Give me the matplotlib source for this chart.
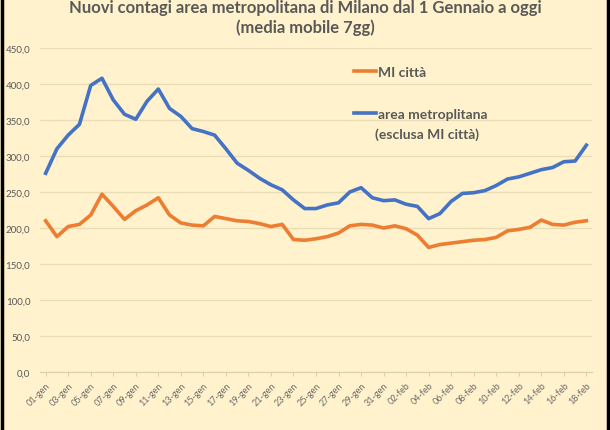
import matplotlib.pyplot as plt
from matplotlib.lines import Line2D

# giorni dal 01-gen al 18-feb
giorni = [f"{d:02d}-gen" for d in range(1, 32)] + [f"{d:02d}-feb" for d in range(1, 19)]

mi_citta = [210, 188, 202, 205, 218, 247, 230, 212, 224, 232,
            242, 218, 207, 204, 203, 216, 213, 210, 209, 206,
            202, 205, 184, 183, 185, 188, 193, 203, 205, 204,
            200, 203, 199, 190, 173, 177, 179, 181, 183, 184,
            187, 196, 198, 201, 211, 205, 204, 208, 210]

area_metro = [276, 310, 329, 344, 398, 408, 378, 358, 351, 376,
              393, 366, 355, 338, 334, 329, 310, 290, 280, 269,
              260, 253, 239, 227, 227, 232, 235, 250, 256, 242,
              238, 239, 233, 230, 213, 220, 237, 248, 249, 252,
              259, 268, 271, 276, 281, 284, 292, 293, 315]

y_ticks = [0, 50, 100, 150, 200, 250, 300, 350, 400, 450]

sfondo = '#FFF2CC'
grigio = '#595959'
blu = '#4472C4'
arancio = '#ED7D31'

plt.rcParams['font.family'] = ['Lato', 'DejaVu Sans']

fig = plt.figure(figsize=(6.1, 4.31), dpi=100, facecolor=sfondo)
ax = fig.add_axes([0.0656, 0.1346, 0.9049, 0.7517])
ax.set_facecolor(sfondo)

x = list(range(len(giorni)))
ax.plot(x, mi_citta, color=arancio, lw=2.6, solid_joinstyle='round', label='MI città')
ax.plot(x, area_metro, color=blu, lw=2.6, solid_joinstyle='round', label='area metroplitana')

ax.set_xlim(-0.5, len(giorni) - 0.5)
ax.set_ylim(0, 450)
ax.set_yticks(y_ticks)
ax.set_yticklabels([f"{v:.1f}".replace('.', ',') for v in y_ticks], fontsize=7, color=grigio)
ax.yaxis.grid(True, color='#E9DDB8', lw=1)
ax.set_axisbelow(True)
ax.tick_params(axis='y', length=0, pad=7)

ax.set_xticks(x[::2])
ax.set_xticklabels(giorni[::2], rotation=45, ha='right', rotation_mode='anchor',
                   fontsize=6.5, color='#6B6B6B')
ax.tick_params(axis='x', length=3, color='#D9D0B0', pad=3)

for s in ['top', 'right', 'left']:
    ax.spines[s].set_visible(False)
ax.spines['bottom'].set_color('#D9D0B0')

leg = ax.legend(loc='upper left', bbox_to_anchor=(0.546, 0.984), frameon=False,
                prop={'weight': 'bold', 'size': 10}, labelcolor=grigio,
                handlelength=1.6, handletextpad=0.15, labelspacing=2.2)
ax.text(0.607, 0.735, '(esclusa MI città)', transform=ax.transAxes, fontsize=10,
        fontweight='bold', color=grigio, va='center', ha='left')

fig.text(0.5, 0.982, 'Nuovi contagi area metropolitana di Milano dal 1 Gennaio a oggi',
         ha='center', va='center', fontsize=12, fontweight='bold', color=grigio)
fig.text(0.5, 0.935, '(media mobile 7gg)', ha='center', va='center',
         fontsize=12, fontweight='bold', color=grigio)

# bordo nero ai lati
fig.add_artist(Line2D([0.004, 0.004], [0, 1], color='black', lw=2.5, transform=fig.transFigure))
fig.add_artist(Line2D([0.996, 0.996], [0, 1], color='black', lw=2.5, transform=fig.transFigure))

fig.savefig('out.png', dpi=100, facecolor=sfondo)
